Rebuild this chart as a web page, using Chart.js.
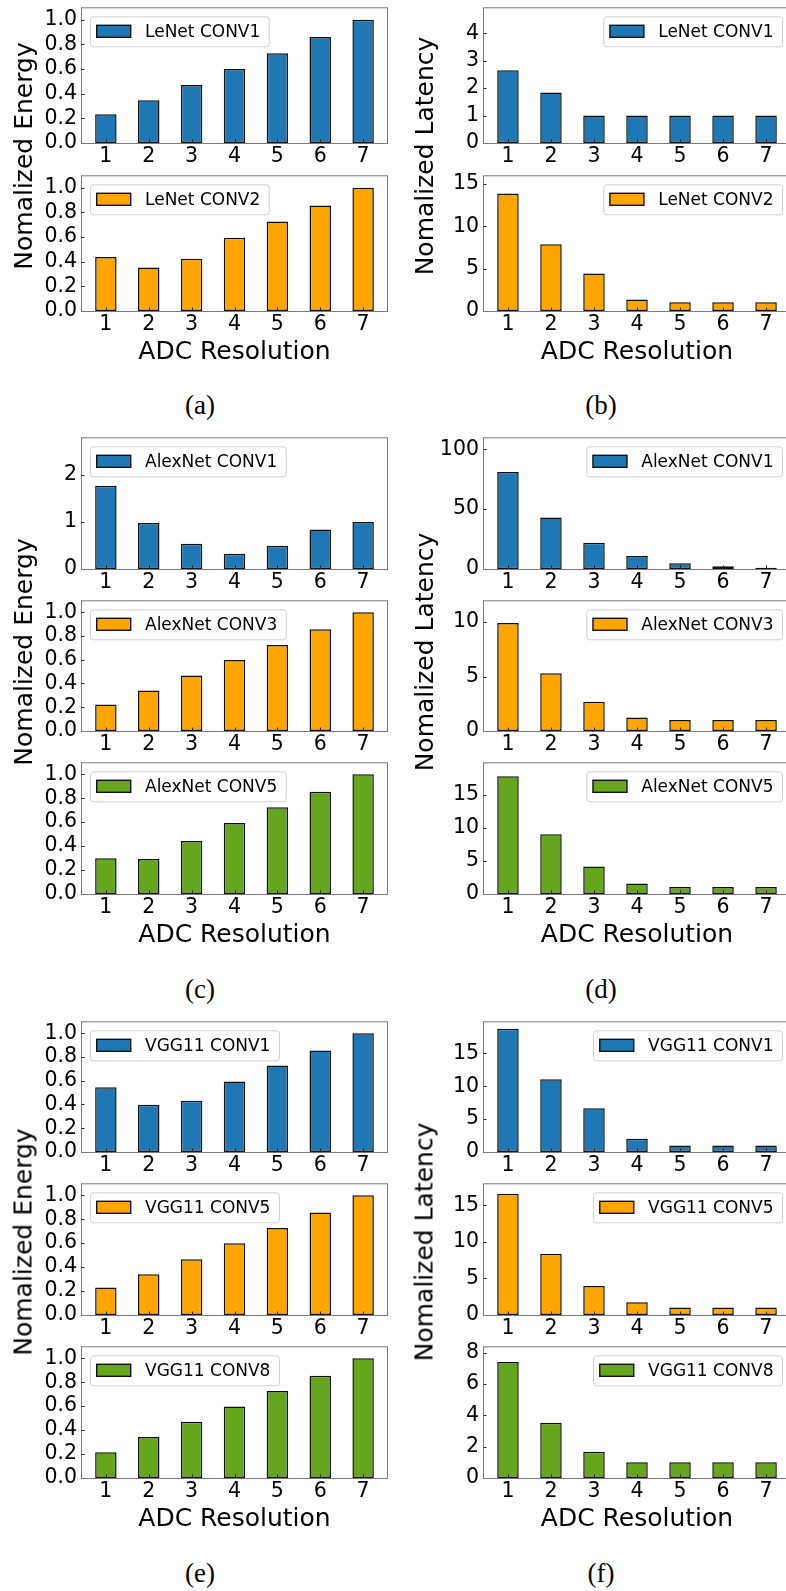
<!DOCTYPE html>
<html>
<head>
<meta charset="utf-8">
<script src="https://cdn.jsdelivr.net/npm/chart.js@4.4.1/dist/chart.umd.min.js"></script>
<style>
  html, body { margin: 0; padding: 0; background: #fff; }
  #page { position: relative; width: 786px; height: 1591px; overflow: hidden; }
  canvas { position: absolute; }
  .txt { position: absolute; font-family: "DejaVu Sans"; color: #000; white-space: nowrap; transform: translate(-50%, -50%); }
  .xlab { font-size: 25px; }
  .ylab { font-size: 25px; transform: translate(-50%, -50%) rotate(-90deg); }
  .cap { font-family: "Liberation Serif"; font-size: 27px; }
</style>
</head>
<body>
<div id="page"></div>
<script>
// x categories: ADC resolution in bits
const resolutions = [1, 2, 3, 4, 5, 6, 7];

// (a) LeNet energy
const lenetConv1Energy = [0.233, 0.346, 0.471, 0.600, 0.728, 0.859, 1.0];
const lenetConv2Energy = [0.437, 0.353, 0.424, 0.594, 0.725, 0.856, 1.0];
// (b) LeNet latency
const lenetConv1Latency = [2.65, 1.84, 1.0, 1.0, 1.0, 1.0, 1.0];
const lenetConv2Latency = [13.86, 7.88, 4.42, 1.37, 1.03, 1.03, 1.03];
// (c) AlexNet energy
const alexConv1Energy = [1.77, 0.976, 0.536, 0.323, 0.495, 0.84, 1.0];
const alexConv3Energy = [0.222, 0.34, 0.468, 0.597, 0.724, 0.857, 1.0];
const alexConv5Energy = [0.298, 0.293, 0.442, 0.593, 0.724, 0.855, 1.0];
// (d) AlexNet latency
const alexConv1Latency = [81.1, 43.0, 21.9, 10.8, 4.9, 2.2, 1.0];
const alexConv3Latency = [9.91, 5.3, 2.68, 1.25, 1.01, 1.0, 1.0];
const alexConv5Latency = [17.78, 9.02, 4.14, 1.57, 1.05, 1.05, 1.05];
// (e) VGG11 energy
const vggConv1Energy = [0.545, 0.398, 0.431, 0.593, 0.729, 0.855, 1.0];
const vggConv5Energy = [0.23, 0.341, 0.466, 0.599, 0.726, 0.856, 1.0];
const vggConv8Energy = [0.216, 0.343, 0.47, 0.597, 0.727, 0.855, 1.0];
// (f) VGG11 latency
const vggConv1Latency = [18.76, 11.09, 6.68, 2.03, 0.99, 0.99, 0.99];
const vggConv5Latency = [16.58, 8.36, 3.96, 1.73, 1.02, 1.02, 1.02];
const vggConv8Latency = [7.4, 3.53, 1.67, 1.01, 1.0, 1.0, 1.0];

const BLUE = '#1f77b4', ORANGE = '#ffa500', GREEN = '#66a51e';
const FONT = 'DejaVu Sans';

// one entry per subplot: column, plot top/bottom (px), y range
const panels = [
  { col: 0, top: 3,    bottom: 143,  label: 'LeNet CONV1',   values: lenetConv1Energy,  color: BLUE,   yMax: 1.1,  step: 0.2, dec: 1 },
  { col: 0, top: 171,  bottom: 311,  label: 'LeNet CONV2',   values: lenetConv2Energy,  color: ORANGE, yMax: 1.1,  step: 0.2, dec: 1 },
  { col: 1, top: 3,    bottom: 143,  label: 'LeNet CONV1',   values: lenetConv1Latency, color: BLUE,   yMax: 4.95, step: 1,   dec: 0 },
  { col: 1, top: 171,  bottom: 311,  label: 'LeNet CONV2',   values: lenetConv2Latency, color: ORANGE, yMax: 16,   step: 5,   dec: 0 },

  { col: 0, top: 433,  bottom: 569,  label: 'AlexNet CONV1', values: alexConv1Energy,   color: BLUE,   yMax: 2.8,  step: 1,   dec: 0 },
  { col: 0, top: 596,  bottom: 731,  label: 'AlexNet CONV3', values: alexConv3Energy,   color: ORANGE, yMax: 1.1,  step: 0.2, dec: 1 },
  { col: 0, top: 758,  bottom: 894,  label: 'AlexNet CONV5', values: alexConv5Energy,   color: GREEN,  yMax: 1.1,  step: 0.2, dec: 1 },
  { col: 1, top: 433,  bottom: 569,  label: 'AlexNet CONV1', values: alexConv1Latency,  color: BLUE,   yMax: 110,  step: 50,  dec: 0 },
  { col: 1, top: 596,  bottom: 731,  label: 'AlexNet CONV3', values: alexConv3Latency,  color: ORANGE, yMax: 12,   step: 5,   dec: 0 },
  { col: 1, top: 758,  bottom: 894,  label: 'AlexNet CONV5', values: alexConv5Latency,  color: GREEN,  yMax: 19.9, step: 5,   dec: 0 },

  { col: 0, top: 1017, bottom: 1152, label: 'VGG11 CONV1',   values: vggConv1Energy,    color: BLUE,   yMax: 1.1,  step: 0.2, dec: 1 },
  { col: 0, top: 1179, bottom: 1315, label: 'VGG11 CONV5',   values: vggConv5Energy,    color: ORANGE, yMax: 1.1,  step: 0.2, dec: 1 },
  { col: 0, top: 1342, bottom: 1478, label: 'VGG11 CONV8',   values: vggConv8Energy,    color: GREEN,  yMax: 1.1,  step: 0.2, dec: 1 },
  { col: 1, top: 1017, bottom: 1152, label: 'VGG11 CONV1',   values: vggConv1Latency,   color: BLUE,   yMax: 19.9, step: 5,   dec: 0 },
  { col: 1, top: 1179, bottom: 1315, label: 'VGG11 CONV5',   values: vggConv5Latency,   color: ORANGE, yMax: 18,   step: 5,   dec: 0 },
  { col: 1, top: 1342, bottom: 1478, label: 'VGG11 CONV8',   values: vggConv8Latency,   color: GREEN,  yMax: 8.4,  step: 2,   dec: 0 }
];

// frame, inward ticks and boxed legend like matplotlib
const framePlugin = {
  id: 'frameBox',
  afterDatasetsDraw(chart, args, opts) {
    const { ctx, chartArea: a, scales: { x, y } } = chart;
    ctx.save();
    ctx.strokeStyle = '#222';
    ctx.lineWidth = 1;
    x.ticks.forEach(t => {
      const px = Math.round(x.getPixelForValue(t.value)) + 0.5;
      ctx.beginPath(); ctx.moveTo(px, a.bottom); ctx.lineTo(px, a.bottom - 3.5); ctx.stroke();
    });
    y.ticks.forEach(t => {
      const py = Math.round(y.getPixelForValue(t.value)) + 0.5;
      ctx.beginPath(); ctx.moveTo(a.left, py); ctx.lineTo(a.left + 3.5, py); ctx.stroke();
    });
    ctx.strokeStyle = '#7a7a7a';
    ctx.strokeRect(a.left + 0.5, a.top + 0.5, a.right - a.left - 1, a.bottom - a.top);

    // legend
    const ds = chart.data.datasets[0];
    ctx.font = '17px "' + FONT + '"';
    const tw = ctx.measureText(ds.label).width;
    const bw = 6.7 + 34 + 14.3 + tw + 8.5, bh = 30;
    const bx = opts.side === 'left' ? a.left + 9 : a.right - 9 - bw;
    const by = a.top + 9;
    ctx.beginPath();
    ctx.roundRect(bx + 0.5, by + 0.5, bw, bh, 3);
    ctx.fillStyle = 'rgba(255,255,255,0.8)';
    ctx.fill();
    ctx.strokeStyle = '#d0d0d0';
    ctx.stroke();
    ctx.fillStyle = ds.backgroundColor;
    ctx.fillRect(bx + 6.7, by + 9, 34, 12);
    ctx.strokeStyle = '#111';
    ctx.lineWidth = 1.4;
    ctx.strokeRect(bx + 6.7, by + 9, 34, 12);
    ctx.fillStyle = '#000';
    ctx.textBaseline = 'middle';
    ctx.fillText(ds.label, bx + 6.7 + 34 + 14.3, by + bh / 2 + 1);
    ctx.restore();
  }
};

const page = document.getElementById('page');

function makeChart(p) {
  const padTop = 12, axisH = 28;
  const left = p.col === 0 ? 0 : 393;
  const width = p.col === 0 ? 388 : 398;
  const axisW = p.col === 0 ? 81 : 90;
  const canvas = document.createElement('canvas');
  canvas.width = width;
  canvas.height = padTop + (p.bottom - p.top) + axisH;
  canvas.style.left = left + 'px';
  canvas.style.top = (p.top - padTop) + 'px';
  page.appendChild(canvas);

  new Chart(canvas, {
    type: 'bar',
    data: {
      datasets: [{
        label: p.label,
        data: resolutions.map((r, i) => ({ x: r, y: p.values[i] })),
        backgroundColor: p.color,
        borderColor: '#111',
        borderWidth: 1.5,
        borderSkipped: false,
        barPercentage: 0.5,
        categoryPercentage: 1.0
      }]
    },
    options: {
      responsive: false,
      animation: false,
      devicePixelRatio: 1,
      layout: { padding: { top: padTop, left: 0, right: 0, bottom: 0 } },
      plugins: {
        legend: { display: false },
        tooltip: { enabled: false },
        frameBox: { side: p.col === 0 ? 'left' : 'right' }
      },
      scales: {
        x: {
          type: 'linear', min: 0.42, max: 7.58, offset: false,
          grid: { display: false, drawTicks: false, offset: false },
          border: { display: false },
          ticks: { stepSize: 1, includeBounds: false, autoSkip: false, maxRotation: 0,
                   color: '#000', padding: 1, font: { family: FONT, size: 20.5 } },
          afterFit(s) { s.height = axisH; }
        },
        y: {
          min: 0, max: p.yMax,
          grid: { display: false, drawTicks: false },
          border: { display: false },
          ticks: { stepSize: p.step, includeBounds: false, autoSkip: false, color: '#000', padding: 4,
                   font: { family: FONT, size: 20.5 },
                   callback: v => v.toFixed(p.dec) },
          afterFit(s) { s.width = axisW; }
        }
      }
    },
    plugins: [framePlugin]
  });
}

panels.forEach(makeChart);

// shared axis titles and sub-captions
function addText(cls, text, x, y) {
  const d = document.createElement('div');
  d.className = 'txt ' + cls;
  d.textContent = text;
  d.style.left = x + 'px';
  d.style.top = y + 'px';
  page.appendChild(d);
}
const rows = [
  { mid: 156,  xlabY: 350,  capY: 405,  caps: ['(a)', '(b)'] },
  { mid: 652,  xlabY: 933,  capY: 989,  caps: ['(c)', '(d)'] },
  { mid: 1242, xlabY: 1517, capY: 1573, caps: ['(e)', '(f)'] }
];
rows.forEach(r => {
  addText('ylab', 'Nomalized Energy', 23, r.mid);
  addText('ylab', 'Nomalized Latency', 424, r.mid);
  addText('xlab', 'ADC Resolution', 234.5, r.xlabY);
  addText('xlab', 'ADC Resolution', 637, r.xlabY);
  addText('cap', r.caps[0], 200, r.capY);
  addText('cap', r.caps[1], 601, r.capY);
});
</script>
</body>
</html>
